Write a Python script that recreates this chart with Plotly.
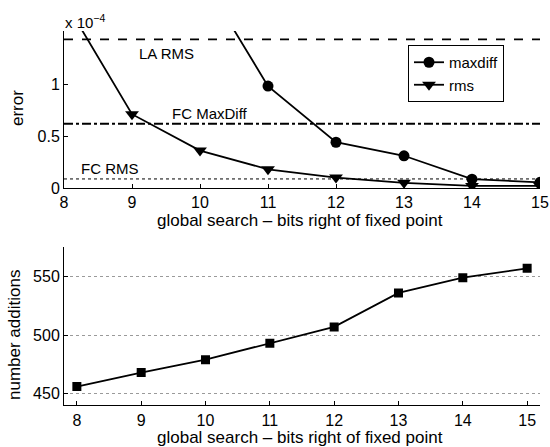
import plotly.graph_objects as go

bits = [8, 9, 10, 11, 12, 13, 14, 15]
maxdiff_bits = [10, 11, 12, 13, 14, 15]
maxdiff = [2.06e-4, 0.98e-4, 0.44e-4, 0.31e-4, 0.085e-4, 0.055e-4]
rms = [1.81e-4, 0.71e-4, 0.36e-4, 0.18e-4, 0.10e-4, 0.05e-4, 0.02e-4, 0.02e-4]
additions = [456, 468, 479, 493, 507, 536, 549, 557]

ref_names = ["LA RMS", "FC MaxDiff", "FC RMS"]
ref_values = [1.43e-4, 0.618e-4, 0.087e-4]
ref_dashes = ["dash", "dashdot", "dot"]
ref_label_x = [9.51, 10.15, 8.67]
ref_label_side = ["below", "above", "above"]

xlabel = "global search – bits right of fixed point"

W, H = 550, 447
FONT = "Liberation Sans, Arial, Helvetica, sans-serif"

fig = go.Figure()

for name, val, dash in zip(ref_names, ref_values, ref_dashes):
    fig.add_trace(go.Scatter(
        x=[bits[0], bits[-1]], y=[val, val], mode="lines",
        line=dict(color="black", width=1.8 if dash != "dot" else 1, dash=dash),
        showlegend=False, hoverinfo="skip", xaxis="x", yaxis="y"))

fig.add_trace(go.Scatter(
    x=maxdiff_bits, y=maxdiff, mode="lines+markers", name="maxdiff",
    line=dict(color="black", width=1.8),
    marker=dict(symbol="circle", size=11, color="black"),
    xaxis="x", yaxis="y"))
fig.add_trace(go.Scatter(
    x=bits, y=rms, mode="lines+markers", name="rms",
    line=dict(color="black", width=1.8),
    marker=dict(symbol="triangle-down", size=12, color="black"),
    xaxis="x", yaxis="y"))

fig.add_trace(go.Scatter(
    x=bits, y=additions, mode="lines+markers", showlegend=False,
    line=dict(color="black", width=1.8),
    marker=dict(symbol="square", size=9, color="black"),
    xaxis="x2", yaxis="y2"))

x0, x1 = 64 / W, 540 / W
top_dom = [1 - 188 / H, 1 - 31 / H]
bot_dom = [1 - 405.3 / H, 1 - 247.3 / H]

axis_common = dict(
    showline=True, linecolor="black", linewidth=1, mirror=False,
    ticks="inside", ticklen=4, tickcolor="black",
    tickfont=dict(size=16, color="black", family=FONT),
    zeroline=False, automargin=False)

TF = dict(size=17, color="black", family=FONT)
annotations = []
for name, val, lx, side in zip(ref_names, ref_values, ref_label_x, ref_label_side):
    annotations.append(dict(
        x=lx, y=val, xref="x", yref="y", text=name, showarrow=False,
        yanchor="top" if side == "below" else "bottom",
        yshift=-4 if side == "below" else 0,
        font=dict(size=15, color="black", family=FONT)))
annotations.append(dict(
    x=x0 - 0.002, y=1 - 33 / H, xref="paper", yref="paper",
    text="x 10<sup>−4</sup>", showarrow=False, xanchor="left", yanchor="bottom",
    font=dict(size=15, color="black", family=FONT)))
annotations += [
    dict(x=300 / W, y=1 - 220 / H, xref="paper", yref="paper", text=xlabel,
         showarrow=False, xanchor="center", yanchor="middle", font=TF),
    dict(x=300 / W, y=1 - 437 / H, xref="paper", yref="paper", text=xlabel,
         showarrow=False, xanchor="center", yanchor="middle", font=TF),
    dict(x=17 / W, y=1 - 108 / H, xref="paper", yref="paper", text="error",
         textangle=-90, showarrow=False, xanchor="center", yanchor="middle", font=TF),
    dict(x=14 / W, y=1 - 335 / H, xref="paper", yref="paper", text="number additions",
         textangle=-90, showarrow=False, xanchor="center", yanchor="middle", font=TF),
]

fig.update_layout(
    width=W, height=H,
    margin=dict(l=0, r=0, t=0, b=0),
    paper_bgcolor="white", plot_bgcolor="white",
    font=dict(family=FONT, color="black", size=15),
    xaxis=dict(domain=[x0, x1], range=[8, 15], anchor="y",
               tickvals=bits, showgrid=False, **axis_common),
    yaxis=dict(domain=top_dom, range=[0, 1.51e-4], anchor="x",
               tickvals=[0, 0.5e-4, 1e-4], ticktext=["0", "0.5", "1"],
               showgrid=False, **axis_common),
    xaxis2=dict(domain=[x0, x1], range=[7.8, 15.2], anchor="y2",
                tickvals=bits, showgrid=False, **axis_common),
    yaxis2=dict(domain=bot_dom, range=[440, 575], anchor="x2",
                tickvals=[450, 500, 550],
                showgrid=True, gridcolor="#9a9a9a", griddash="dot", gridwidth=1,
                **axis_common),
    legend=dict(x=408 / W, y=1 - 45 / H, xanchor="left", yanchor="top",
                bgcolor="white", bordercolor="black", borderwidth=1,
                font=dict(size=15, color="black", family=FONT),
                tracegroupgap=0, itemwidth=30),
    annotations=annotations,
)

fig.write_html("out.html", config={"displayModeBar": False},
               post_script="document.body.style.margin='0px';")
